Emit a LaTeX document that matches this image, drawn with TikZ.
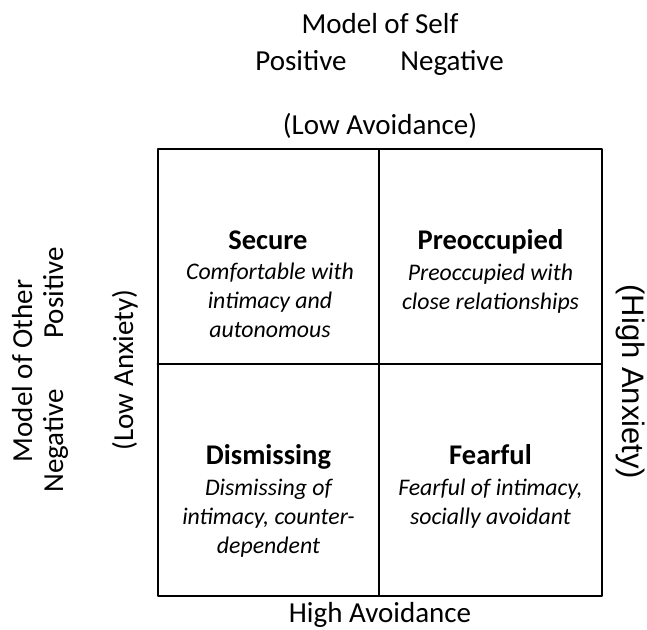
\documentclass[tikz,border=0pt]{standalone}
\usepackage{fontspec}
\setmainfont{Carlito}
\newfontfamily\arialfont{Liberation Sans}
\begin{document}
\begin{tikzpicture}[x=1pt,y=-1pt,line join=round,line cap=round,
	axis/.style={inner sep=0pt,font=\fontsize{29}{35}\selectfont},
	title/.style={inner sep=0pt,font=\fontsize{28.5}{34}\selectfont\bfseries},
	desc/.style={inner sep=0pt,align=center,font=\fontsize{23.8}{28.7}\selectfont\itshape}]
	% Thông số khung
	\def\xl{157.5} \def\xm{379} \def\xr{602}
	\def\yt{149} \def\ym{364} \def\yb{596}
	\useasboundingbox (0,0) rectangle (647,629);
	
	% Khung 2x2
	\draw[line width=2pt] (\xl,\yt) rectangle (\xr,\yb);
	\draw[line width=2pt] (\xm,\yt) -- (\xm,\yb);
	\draw[line width=2pt] (\xl,\ym) -- (\xr,\ym);
	
	% Nhãn phía trên và dưới
	\node[axis,anchor=base] (self) at (380,33) {Model of Self};
	\node[axis,anchor=base] (selfpos) at (301,70) {Positive};
	\node[axis,anchor=base] (selfneg) at (452,70) {Negative};
	\node[axis,anchor=base] (lowavoid) at (380,134) {(Low Avoidance)};
	\node[axis,anchor=base] (highavoid) at (380,622) {High Avoidance};
	
	% Nhãn bên trái và phải
	\node[axis,anchor=base,rotate=90] (other) at (32,371) {Model of Other};
	\node[axis,anchor=base,rotate=90] (otherpos) at (63,293) {Positive};
	\node[axis,anchor=base,rotate=90] (otherneg) at (63,441) {Negative};
	\node[axis,anchor=base,rotate=90] (lowanx) at (133,370) {(Low Anxiety)};
	\node[inner sep=0pt,anchor=base,rotate=-90,font=\arialfont\fontsize{31}{37}\selectfont] (highanx) at (622,382) {(High Anxiety)};
	
	% Bốn ô (base = dòng cuối)
	\node[title,anchor=base] (secure) at (268,249) {Secure};
	\node[desc,anchor=base] (securetxt) at (270,337) {Comfortable with\\intimacy and\\autonomous};
	\node[title,anchor=base] (preocc) at (490.5,249) {Preoccupied};
	\node[desc,anchor=base] (preocctxt) at (490.5,309) {Preoccupied with\\close relationships};
	\node[title,anchor=base] (dismiss) at (268.5,464) {Dismissing};
	\node[desc,anchor=base] (dismisstxt) at (268.5,553) {Dismissing of\\intimacy, counter-\\dependent};
	\node[title,anchor=base] (fearful) at (490.5,464) {Fearful};
	\node[desc,anchor=base] (fearfultxt) at (490.5,524) {Fearful of intimacy,\\socially avoidant};
\end{tikzpicture}
\end{document}
